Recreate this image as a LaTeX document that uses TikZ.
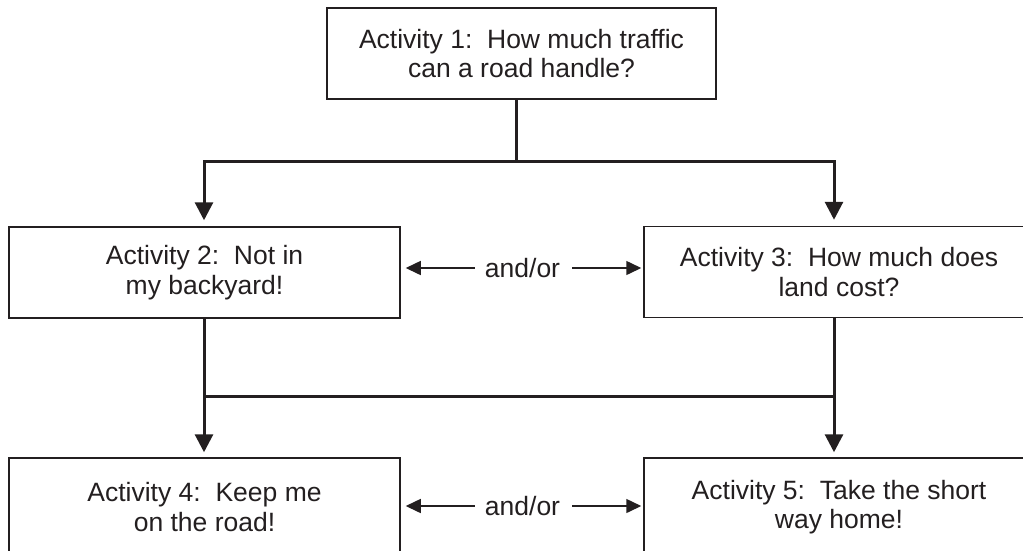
\documentclass[tikz,border=0pt]{standalone}
\usepackage{fontspec}
\setmainfont{Liberation Sans}
\usetikzlibrary{arrows.meta}
\definecolor{ink}{RGB}{35,31,32}
\begin{document}
\begin{tikzpicture}[x=1pt,y=-1pt,
  box/.style={draw=ink,line width=1.5pt,minimum width=390pt,minimum height=91pt,
    inner sep=0pt,align=center,text=ink,font=\fontsize{26.5}{29.5}\selectfont},
  conn/.style={draw=ink,line width=3pt},
  bigtip/.style={{Triangle[length=18pt,width=18pt]}-{Triangle[length=18pt,width=18pt]}},
  orlabel/.style={inner sep=0pt,text=ink,font=\fontsize{26.5}{29.5}\selectfont},
  orarrow/.style={draw=ink,line width=1.5pt,-{Triangle[length=15pt,width=14pt]}}]
\clip (0,0) rectangle (1023,550);
\fill[white] (0,0) rectangle (1023,550);
\newcommand{\gap}{\hspace{0.556em}}
% boxes
\node[box,minimum width=389pt] (a1) at (521.5,53.5) {Activity 1:\gap How much traffic\\can a road handle?};
\node[box,minimum width=391pt] (a2) at (204.5,272.5) {Activity 2:\gap Not in\\my backyard!};
\node[box] (a3) at (839,272) {Activity 3:\gap How much does\\land cost?};
\node[box,minimum width=391pt,minimum height=98pt] (a4) at (204.5,507) {Activity 4:\gap Keep me\\on the road!};
\node[box,minimum height=98pt] (a5) at (839,507) {Activity 5:\gap Take the short\\way home!};
% junctions
\coordinate (t) at (516,161);
\coordinate (jl) at (204,161);
\coordinate (jr) at (834,161);
\coordinate (kl) at (204,396);
\coordinate (kr) at (834,396);
% upper connectors
\draw[conn] (a1.south -| t) -- (t);
\draw[conn,bigtip,shorten <=6pt,shorten >=6pt] (jl |- a2.north) -- (jl) -- (jr) -- (jr |- a3.north);
% lower connectors
\draw[conn] (a2.south -| kl) -- (kl);
\draw[conn] (a3.south -| kr) -- (kr);
\draw[conn,bigtip,shorten <=5pt,shorten >=5pt] (kl |- a4.north) -- (kl) -- (kr) -- (kr |- a5.north);
% and/or
\node[orlabel] (o1) at (522.5,268) {and/or};
\node[orlabel] (o2) at (522.5,506) {and/or};
\draw[orarrow,shorten >=5pt] ([xshift=-10pt]o1.west) -- (a2.east |- o1);
\draw[orarrow,shorten >=2pt] ([xshift=12pt]o1.east) -- (a3.west |- o1);
\draw[orarrow,shorten >=5pt] ([xshift=-10pt]o2.west) -- (a4.east |- o2);
\draw[orarrow,shorten >=2pt] ([xshift=12pt]o2.east) -- (a5.west |- o2);
\end{tikzpicture}
\end{document}
